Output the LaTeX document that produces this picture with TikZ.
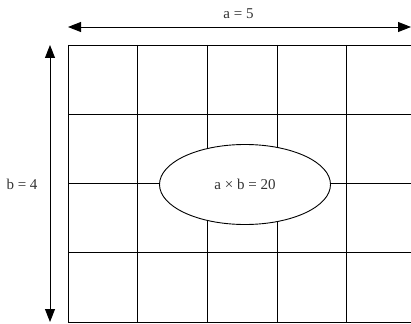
\documentclass[tikz,border=0pt]{standalone}
\usepackage{fontspec}
\setmainfont{Liberation Serif}
\usetikzlibrary{shapes.geometric, arrows.meta, positioning, calc}

\begin{document}
\begin{tikzpicture}[x=1pt, y=-1pt,
  cell/.style = {draw=black, line width=0.9pt},
  lbl/.style  = {font=\fontsize{15}{17}\selectfont, text=black!80, inner sep=1pt},
  dimarr/.style = {{Triangle[length=13pt,width=10pt]}-{Triangle[length=13pt,width=10pt]},
                   line width=0.9pt},
  oval/.style = {ellipse, draw, fill=white, line width=0.9pt, inner sep=0pt,
                 minimum width=171pt, minimum height=80pt}
]
\useasboundingbox (0,0) rectangle (411,323);
\clip (0,0) rectangle (411,323);

% grid of 5 x 4 cells
\foreach \i in {0,...,5}
  \draw[cell] (68+69.7*\i,45) -- (68+69.7*\i,322);
\foreach \j in {0,...,4}
  \draw[cell] (68,45+69.25*\j) -- (416.5,45+69.25*\j);

% dimension arrows
\coordinate (aleft)  at (68,27);
\coordinate (aright) at (411,27);
\coordinate (btop)   at (50,45);
\coordinate (bbot)   at (50,322);
\draw[dimarr] (aleft) -- (aright);
\draw[dimarr] (btop) -- (bbot);

\node[lbl] (alab) at (238.5,13.5) {a = 5};
\node[lbl] (blab) at (22,184.5)   {b = 4};

\node[oval, lbl, draw=black, line width=0.9pt] (area) at (245,184.5) {a × b = 20};
\end{tikzpicture}
\end{document}
